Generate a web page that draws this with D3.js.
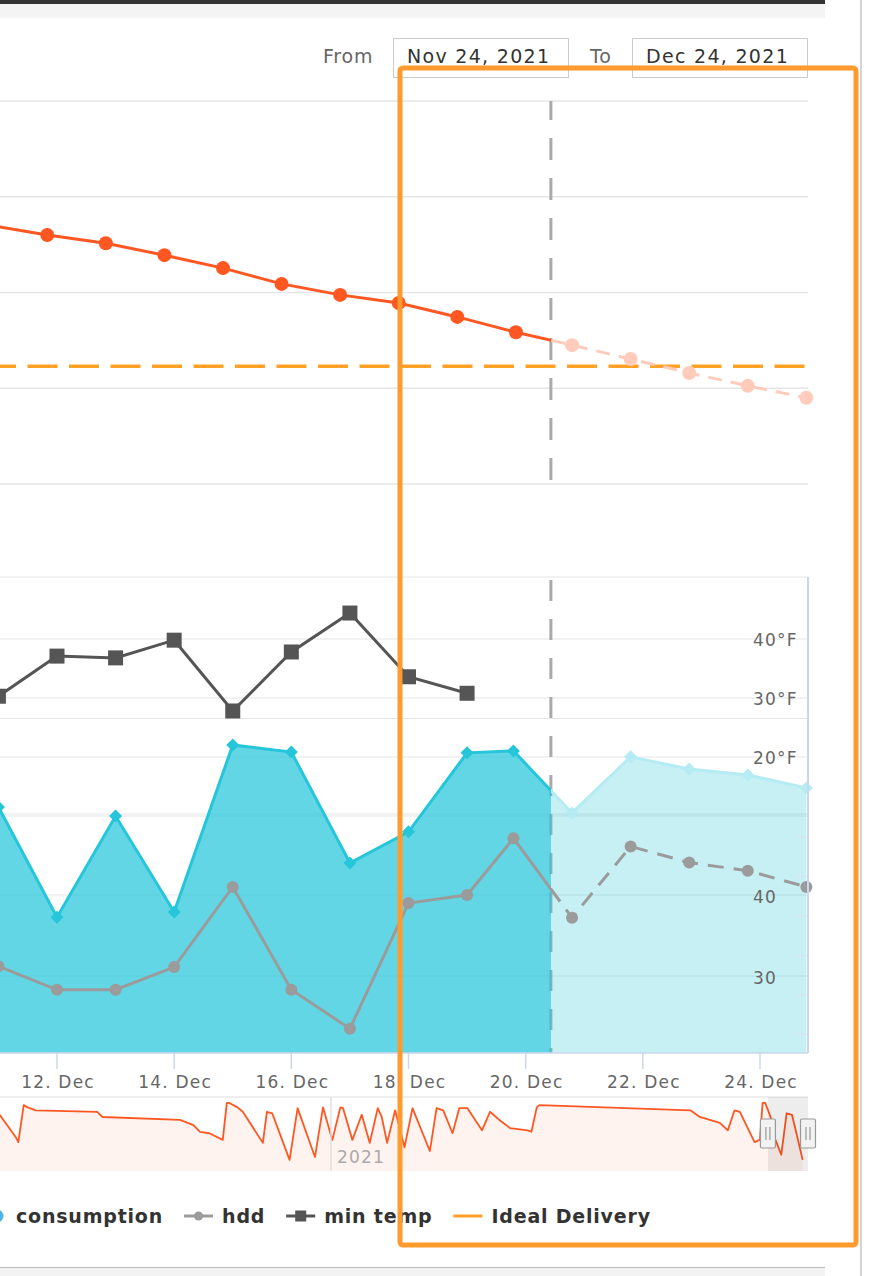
<!DOCTYPE html>
<html>
<head>
<meta charset="utf-8">
<script src="https://cdn.jsdelivr.net/npm/d3@7"></script>
<style>
  html, body { margin: 0; padding: 0; background: #fff; overflow: hidden; }
  svg { display: block; font-family: "DejaVu Sans", sans-serif; }
</style>
</head>
<body>
<script>
// ---- data ----
// tank level (%), daily readings then forecast
var levelDates = ["2021-12-10T20:00", "2021-12-11T20:00", "2021-12-12T20:00", "2021-12-13T20:00", "2021-12-14T20:00",
                  "2021-12-15T20:00", "2021-12-16T20:00", "2021-12-17T20:00", "2021-12-18T20:00", "2021-12-19T20:00",
                  "2021-12-20T19:00", "2021-12-21T19:00", "2021-12-22T19:00", "2021-12-23T19:00", "2021-12-24T19:00"];
var levelValues = [74.1, 72.0, 70.3, 67.8, 65.1, 61.8, 59.5, 57.8, 54.9, 51.7, 49.0, 46.1, 43.2, 40.5, 38.0];
var idealDelivery = 44.6;
var today = "2021-12-20T10:20";

// lower pane
var dayDates = ["2021-12-11", "2021-12-12", "2021-12-13", "2021-12-14", "2021-12-15", "2021-12-16", "2021-12-17",
                "2021-12-18", "2021-12-19", "2021-12-19T19:00", "2021-12-20T19:00", "2021-12-21T19:00",
                "2021-12-22T19:00", "2021-12-23T19:00", "2021-12-24T19:00"];
var consumption = [6.76, 3.97, 6.53, 4.10, 8.33, 8.15, 5.34, 6.13, 8.13, 8.18, 6.61, 8.03, 7.72, 7.57, 7.24];
var hdd = [31.2, 28.3, 28.3, 31.1, 41.0, 28.3, 23.5, 39.0, 40.0, 47.0, 37.2, 46.0, 44.0, 43.0, 41.0];
var minTempDates = ["2021-12-11", "2021-12-12", "2021-12-13", "2021-12-14", "2021-12-15", "2021-12-16",
                    "2021-12-17", "2021-12-18", "2021-12-19"];
var minTemp = [30.3, 37.1, 36.8, 39.8, 27.8, 37.8, 44.4, 33.6, 30.8];

var xTicks = ["2021-12-12", "2021-12-14", "2021-12-16", "2021-12-18", "2021-12-20", "2021-12-22", "2021-12-24"];
var tempTicks = [40, 30, 20];
var tempGrid = [40, 30, 20, 10];
var hddTicks = [40, 30];
var hddGrid = [50, 40, 30];
var consGrid = [9];
var consTicks = [1, 2, 3, 4, 5, 6];
var levelGrid = [100, 80, 60, 40, 20];

// navigator (whole history)
var navDates = ["2020-04-28", "2020-05-10", "2020-05-12", "2020-05-16", "2020-05-19", "2020-05-25", "2020-07-10",
                "2020-07-14", "2020-09-10", "2020-09-20", "2020-09-25", "2020-10-02", "2020-10-12", "2020-10-15",
                "2020-10-17", "2020-10-23", "2020-10-27", "2020-11-11", "2020-11-14", "2020-11-18", "2020-12-01",
                "2020-12-07", "2020-12-20", "2020-12-26", "2021-01-02", "2021-01-08", "2021-01-10", "2021-01-17",
                "2021-01-24", "2021-01-30", "2021-02-05", "2021-02-08", "2021-02-12", "2021-02-18", "2021-02-25",
                "2021-03-03", "2021-03-16", "2021-03-21", "2021-03-26", "2021-04-02", "2021-04-07", "2021-04-13",
                "2021-04-24", "2021-04-30", "2021-05-07", "2021-05-15", "2021-05-28", "2021-05-31", "2021-06-04",
                "2021-06-06", "2021-09-27", "2021-10-04", "2021-10-19", "2021-10-25", "2021-10-30", "2021-11-03",
                "2021-11-14", "2021-11-18", "2021-11-20", "2021-11-22", "2021-11-26", "2021-11-29", "2021-12-04",
                "2021-12-08", "2021-12-12", "2021-12-16", "2021-12-20"];
var navLevel = [76, 46, 39, 89, 86, 82, 80, 73, 69, 62, 53, 51, 42, 92, 92, 86, 80, 38, 80, 78, 15,
                85, 19, 86, 42, 86, 85, 42, 76, 38, 85, 73, 38, 82, 32, 85, 27, 85, 82, 51, 85, 85,
                55, 80, 69, 58, 55, 53, 86, 89, 82, 73, 65, 55, 82, 80, 39, 42, 92, 92, 73, 45, 22,
                78, 76, 46, 15];
var navFrom = "2021-11-24", navTo = "2021-12-24";

var legendNames = ["consumption", "hdd", "min temp", "Ideal Delivery"];

// ---- helpers ----
function t(s) { return new Date(s.length > 10 ? s + ":00Z" : s + "T00:00:00Z"); }
var fmt = d3.utcFormat("%-d. %b");

var svg = d3.select("body").append("svg").attr("width", 870).attr("height", 1276);

var plotRight = 808;
var x = d3.scaleUtc().domain([t("2021-12-12"), t("2021-12-24")]).range([57, 760]);
var yLevel = d3.scaleLinear().domain([20, 100]).range([484, 101]);
var yTemp = d3.scaleLinear().domain([20, 40]).range([757, 639]);
var yHdd = d3.scaleLinear().domain([30, 40]).range([976, 895]);
var yCons = d3.scaleLinear().domain([0, 12]).range([1074, 600]);
var paneTop = 577, paneBottom = 1053;
var todayDate = t(today), todayX = x(todayDate);

// ---- page chrome ----
svg.append("rect").attr("x", 0).attr("y", 0).attr("width", 825).attr("height", 4).attr("fill", "#333");
svg.append("rect").attr("x", 0).attr("y", 4).attr("width", 825).attr("height", 14).attr("fill", "#f4f4f4");
svg.append("rect").attr("x", 0).attr("y", 1268).attr("width", 825).attr("height", 8).attr("fill", "#f3f3f3");
svg.append("line").attr("x1", 0).attr("x2", 825).attr("y1", 1267.5).attr("y2", 1267.5).attr("stroke", "#bbb");
svg.append("line").attr("x1", 861).attr("x2", 861).attr("y1", 0).attr("y2", 1276).attr("stroke", "#d4d4d4").attr("stroke-width", 2);

// range selector inputs
function dateBox(label, lx, bx, value) {
  svg.append("text").attr("x", lx).attr("y", 63).attr("fill", "#666").attr("font-size", 19)
    .attr("letter-spacing", 0.8).text(label);
  svg.append("rect").attr("x", bx + 0.5).attr("y", 38.5).attr("width", 175).attr("height", 39)
    .attr("fill", "#fff").attr("stroke", "#ccc");
  svg.append("text").attr("x", bx + 14).attr("y", 63).attr("fill", "#333").attr("font-size", 19)
    .attr("letter-spacing", 1.3).text(value);
}
var dfmt = d3.utcFormat("%b %-d, %Y");
dateBox("From", 323, 393, dfmt(t(navFrom)));
dateBox("To", 590, 632, dfmt(t(navTo)));

// clips for zone split at "today"
var defs = svg.append("defs");
defs.append("clipPath").attr("id", "hist").append("rect")
  .attr("x", 0).attr("y", 0).attr("width", todayX).attr("height", 1276);
defs.append("clipPath").attr("id", "fc").append("rect")
  .attr("x", todayX).attr("y", 0).attr("width", plotRight - todayX).attr("height", 1276);
defs.append("clipPath").attr("id", "plot").append("rect")
  .attr("x", 0).attr("y", 0).attr("width", plotRight).attr("height", 1276);

var grid = "#e6e6e6";

// ---- top pane: tank level ----
var topPane = svg.append("g");
topPane.selectAll("line.grid").data(levelGrid).enter().append("line")
  .attr("x1", 0).attr("x2", plotRight).attr("y1", yLevel).attr("y2", yLevel)
  .attr("stroke", grid).attr("stroke-width", 1.5);

topPane.append("line").attr("x1", todayX).attr("x2", todayX).attr("y1", 101).attr("y2", 484)
  .attr("stroke", "#aaa").attr("stroke-width", 3).attr("stroke-dasharray", "22,18").attr("stroke-dashoffset", 3);

topPane.append("line").attr("x1", -2).attr("x2", plotRight).attr("y1", yLevel(idealDelivery)).attr("y2", yLevel(idealDelivery))
  .attr("stroke", "#ffa126").attr("stroke-width", 3.5).attr("stroke-dasharray", "30,11.5").attr("stroke-dashoffset", 12);

var level = levelDates.map(function(d, i) { return { date: t(d), v: levelValues[i] }; });
var levelLine = d3.line().x(function(d) { return x(d.date); }).y(function(d) { return yLevel(d.v); });
topPane.append("path").datum(level).attr("d", levelLine).attr("clip-path", "url(#hist)")
  .attr("fill", "none").attr("stroke", "#ff5722").attr("stroke-width", 3);
topPane.append("path").datum(level).attr("d", levelLine).attr("clip-path", "url(#fc)")
  .attr("fill", "none").attr("stroke", "#ffccbc").attr("stroke-width", 3).attr("stroke-dasharray", "14,9");
topPane.selectAll("circle").data(level).enter().append("circle")
  .attr("cx", function(d) { return x(d.date); }).attr("cy", function(d) { return yLevel(d.v); }).attr("r", 7)
  .attr("fill", function(d) { return d.date < todayDate ? "#ff5722" : "#ffccbc"; });

// ---- lower pane ----
var low = svg.append("g");
var gridYs = tempGrid.map(yTemp).concat(hddGrid.map(yHdd), consGrid.map(yCons), [paneTop]);
low.selectAll("line.grid").data(gridYs).enter().append("line")
  .attr("x1", 0).attr("x2", plotRight).attr("y1", function(d) { return d; }).attr("y2", function(d) { return d; })
  .attr("stroke", grid).attr("stroke-width", 1.2);

low.append("line").attr("x1", todayX).attr("x2", todayX).attr("y1", 580).attr("y2", paneBottom)
  .attr("stroke", "#aaa").attr("stroke-width", 3).attr("stroke-dasharray", "21,18");

var days = dayDates.map(function(d, i) { return { date: t(d), c: consumption[i], h: hdd[i] }; });
var consArea = d3.area().x(function(d) { return x(d.date); }).y0(paneBottom).y1(function(d) { return yCons(d.c); });
var consLine = d3.line().x(function(d) { return x(d.date); }).y(function(d) { return yCons(d.c); });
var hddLine = d3.line().x(function(d) { return x(d.date); }).y(function(d) { return yHdd(d.h); });

low.append("path").datum(days).attr("d", consArea).attr("clip-path", "url(#hist)")
  .attr("fill", "#26c6da").attr("fill-opacity", 0.72);
low.append("path").datum(days).attr("d", consArea).attr("clip-path", "url(#fc)")
  .attr("fill", "#26c6da").attr("fill-opacity", 0.26);
low.append("path").datum(days).attr("d", consLine).attr("clip-path", "url(#hist)")
  .attr("fill", "none").attr("stroke", "#26c6da").attr("stroke-width", 3);
low.append("path").datum(days).attr("d", consLine).attr("clip-path", "url(#fc)")
  .attr("fill", "none").attr("stroke", "#b5ebf2").attr("stroke-width", 3);

// consumption axis ticks (right side, inside)
low.selectAll("line.ctick").data(consTicks).enter().append("line")
  .attr("x1", plotRight - 11).attr("x2", plotRight).attr("y1", yCons).attr("y2", yCons)
  .attr("stroke", "#dde3ea").attr("stroke-width", 1.2);

low.append("path").datum(days).attr("d", hddLine).attr("clip-path", "url(#hist)")
  .attr("fill", "none").attr("stroke", "#9b9b9b").attr("stroke-width", 3);
low.append("path").datum(days).attr("d", hddLine).attr("clip-path", "url(#fc)")
  .attr("fill", "none").attr("stroke", "#9b9b9b").attr("stroke-width", 3).attr("stroke-dasharray", "16,10");

var temps = minTempDates.map(function(d, i) { return { date: t(d), v: minTemp[i] }; });
low.append("path").datum(temps)
  .attr("d", d3.line().x(function(d) { return x(d.date); }).y(function(d) { return yTemp(d.v); }))
  .attr("fill", "none").attr("stroke", "#555").attr("stroke-width", 3);

// markers
low.selectAll("path.diamond").data(days).enter().append("path")
  .attr("d", "M0,-6.5L6.5,0L0,6.5L-6.5,0Z")
  .attr("transform", function(d) { return "translate(" + x(d.date) + "," + yCons(d.c) + ")"; })
  .attr("fill", function(d) { return d.date < todayDate ? "#26c6da" : "#b5ebf2"; });
low.selectAll("circle.hdd").data(days).enter().append("circle")
  .attr("cx", function(d) { return x(d.date); }).attr("cy", function(d) { return yHdd(d.h); }).attr("r", 6)
  .attr("fill", "#9b9b9b");
low.selectAll("rect.temp").data(temps).enter().append("rect")
  .attr("x", function(d) { return x(d.date) - 7.5; }).attr("y", function(d) { return yTemp(d.v) - 7.5; })
  .attr("width", 15).attr("height", 15).attr("fill", "#555");

// axes lines
low.append("line").attr("x1", plotRight).attr("x2", plotRight).attr("y1", paneTop).attr("y2", paneBottom)
  .attr("stroke", "#ccd6eb").attr("stroke-width", 2);
low.append("line").attr("x1", 0).attr("x2", plotRight).attr("y1", paneBottom).attr("y2", paneBottom)
  .attr("stroke", "#ccd6eb").attr("stroke-width", 1.5);
low.selectAll("line.xt").data(xTicks).enter().append("line")
  .attr("x1", function(d) { return x(t(d)); }).attr("x2", function(d) { return x(t(d)); })
  .attr("y1", paneBottom).attr("y2", 1069).attr("stroke", "#ccd6eb").attr("stroke-width", 1.5);
low.selectAll("text.xt").data(xTicks).enter().append("text")
  .attr("x", function(d) { return x(t(d)) + 1; }).attr("y", 1088).attr("text-anchor", "middle")
  .attr("fill", "#666").attr("font-size", 17).attr("letter-spacing", 1.2).text(function(d) { return fmt(t(d)); });

low.selectAll("text.temp").data(tempTicks).enter().append("text")
  .attr("x", 753).attr("y", function(d) { return yTemp(d) + 7; })
  .attr("fill", "#666").attr("font-size", 17).attr("letter-spacing", 1.2).text(function(d) { return d + "°F"; });
low.selectAll("text.hdd").data(hddTicks).enter().append("text")
  .attr("x", 753).attr("y", function(d) { return yHdd(d) + 8; })
  .attr("fill", "#666").attr("font-size", 17).attr("letter-spacing", 1.2).text(function(d) { return d; });

// ---- navigator ----
var nav = svg.append("g");
var xNav = d3.scaleUtc().domain([t("2021-01-01"), t(navTo)]).range([331, plotRight]);
var yNav = d3.scaleLinear().domain([0, 100]).range([1171, 1097]);
var navData = navDates.map(function(d, i) { return { date: t(d), v: navLevel[i] }; });
var navG = nav.append("g").attr("clip-path", "url(#plot)");
navG.append("path").datum(navData)
  .attr("d", d3.area().x(function(d) { return xNav(d.date); }).y0(1171).y1(function(d) { return yNav(d.v); }))
  .attr("fill", "#ff5722").attr("fill-opacity", 0.07);
navG.append("path").datum(navData)
  .attr("d", d3.line().x(function(d) { return xNav(d.date); }).y(function(d) { return yNav(d.v); }))
  .attr("fill", "none").attr("stroke", "#ff5722").attr("stroke-width", 1.8).attr("stroke-linejoin", "round");
var yearX = xNav(t("2021-01-01"));
nav.append("line").attr("x1", yearX).attr("x2", yearX).attr("y1", 1097).attr("y2", 1171)
  .attr("stroke", "#e0e0e0").attr("stroke-width", 1.5);
nav.append("text").attr("x", yearX + 6).attr("y", 1163).attr("fill", "#aaa").attr("font-size", 17)
  .attr("letter-spacing", 1.2).text("2021");
nav.append("line").attr("x1", 0).attr("x2", plotRight).attr("y1", 1097).attr("y2", 1097)
  .attr("stroke", "#e8e8e8").attr("stroke-width", 1.5);
var x0 = xNav(t(navFrom)), x1 = xNav(t(navTo));
nav.append("rect").attr("x", x0).attr("y", 1097).attr("width", x1 - x0).attr("height", 74)
  .attr("fill", "#000").attr("fill-opacity", 0.07);
[x0, x1].forEach(function(hx) {
  var h = nav.append("g").attr("transform", "translate(" + hx + ",1119)");
  h.append("rect").attr("x", -7.5).attr("y", 0).attr("width", 15).attr("height", 29).attr("rx", 1.5)
    .attr("fill", "#f2f2f2").attr("stroke", "#999").attr("stroke-width", 1.2);
  h.append("line").attr("x1", -2).attr("x2", -2).attr("y1", 8).attr("y2", 21).attr("stroke", "#999").attr("stroke-width", 1.2);
  h.append("line").attr("x1", 2).attr("x2", 2).attr("y1", 8).attr("y2", 21).attr("stroke", "#999").attr("stroke-width", 1.2);
});

// ---- legend ----
var leg = svg.append("g").attr("transform", "translate(0,1216)");
leg.append("circle").attr("cx", -3).attr("cy", 0).attr("r", 6.5).attr("fill", "#4fb3e8");
var lx = 16;
legendNames.forEach(function(name, i) {
  if (i > 0) {
    var col = ["", "#9b9b9b", "#555", "#ffa126"][i];
    leg.append("line").attr("x1", lx).attr("x2", lx + 29).attr("y1", 0).attr("y2", 0)
      .attr("stroke", col).attr("stroke-width", 3);
    if (i === 1) leg.append("circle").attr("cx", lx + 14.5).attr("cy", 0).attr("r", 4.5).attr("fill", col);
    if (i === 2) leg.append("rect").attr("x", lx + 9).attr("y", -5.5).attr("width", 11).attr("height", 11).attr("fill", col);
    lx += 38;
  }
  var txt = leg.append("text").attr("x", lx).attr("y", 7).attr("fill", "#333").attr("font-size", 19)
    .attr("font-weight", "bold").attr("letter-spacing", 0.8).text(name);
  lx += txt.node().getComputedTextLength() + 21;
});

// ---- annotation box ----
svg.append("rect").attr("x", 400).attr("y", 68).attr("width", 456).attr("height", 1177).attr("rx", 3)
  .attr("fill", "none").attr("stroke", "#ff9a2e").attr("stroke-width", 5);
</script>
</body>
</html>
